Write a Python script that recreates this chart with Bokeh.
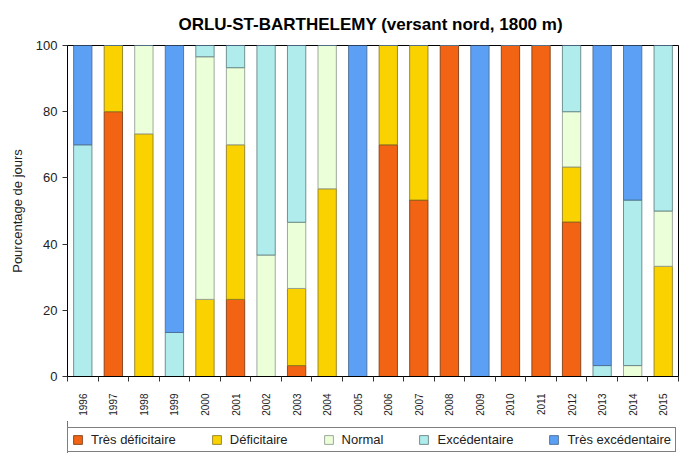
from bokeh.plotting import figure
from bokeh.layouts import column
from bokeh.models import Range1d, FixedTicker, Legend, LegendItem, ColumnDataSource
from bokeh.embed import file_html
from bokeh.resources import INLINE
import math

years = [str(y) for y in range(1996, 2016)]
tres_def = [0, 80, 0, 0, 0, 23.3, 0, 3.3, 0, 0, 70, 53.3, 100, 0, 100, 100, 46.7, 0, 0, 0]
deficit = [0, 20, 73.3, 0, 23.3, 46.7, 0, 23.3, 56.7, 0, 30, 46.7, 0, 0, 0, 0, 16.6, 0, 0, 33.3]
normal = [0, 0, 26.7, 0, 73.3, 23.3, 36.7, 20, 43.3, 0, 0, 0, 0, 0, 0, 0, 16.7, 0, 3.3, 16.7]
exced = [70, 0, 0, 13.3, 3.4, 6.7, 63.3, 53.4, 0, 0, 0, 0, 0, 0, 0, 0, 20, 3.3, 50, 50]
tres_exc = [30, 0, 0, 86.7, 0, 0, 0, 0, 0, 100, 0, 0, 0, 100, 0, 0, 0, 96.7, 46.7, 0]

labels = ["Très déficitaire", "Déficitaire", "Normal", "Excédentaire", "Très excédentaire"]
keys = ["tres_def", "deficit", "normal", "exced", "tres_exc"]
fills = ["#F26414", "#FAD200", "#EBFFD9", "#B0ECEC", "#5BA0F5"]
lines = ["#7a3a10", "#8a7a20", "#8f9a8f", "#5f7f7f", "#4a6a90"]

n = len(years)
xs = [i + 0.5 for i in range(n)]
data = dict(x=xs, tres_def=tres_def, deficit=deficit, normal=normal,
            exced=exced, tres_exc=tres_exc)
source = ColumnDataSource(data)

p = figure(frame_width=611, frame_height=331, output_backend="svg", toolbar_location=None,
           x_range=Range1d(0, n), y_range=Range1d(0, 100),
           min_border_left=67, min_border_right=21, min_border_top=44, min_border_bottom=45,
           title="ORLU-ST-BARTHELEMY  (versant nord, 1800 m)")
p.title.align = "center"
p.title.text_font = "Liberation Sans"
p.title.text_font_size = "17px"
p.title.text_font_style = "bold"
p.title.text_color = "#000000"
p.title.standoff = 24

rs = p.vbar_stack(keys, x="x", width=0.6, source=source, fill_color=fills,
                  line_color=lines, line_width=1, line_alpha=0.85)

p.xgrid.visible = False
p.ygrid.visible = False
p.outline_line_color = "black"
p.outline_line_width = 1
p.background_fill_color = "white"
p.border_fill_color = "white"

xa = p.xaxis[0]
xa.ticker = FixedTicker(ticks=xs, minor_ticks=list(range(n + 1)))
xa.major_label_overrides = {x: y for x, y in zip(xs, years)}
xa.major_tick_out = 0
xa.major_tick_in = 0
xa.minor_tick_out = 5
xa.minor_tick_in = 0
xa.minor_tick_line_color = "#333333"
xa.axis_line_color = "black"
xa.major_label_orientation = math.pi / 2
xa.major_label_text_font = "Liberation Sans"
xa.major_label_text_font_size = "10px"
xa.major_label_text_color = "#222222"
xa.major_label_standoff = 12

ya = p.yaxis[0]
ya.ticker = FixedTicker(ticks=[0, 20, 40, 60, 80, 100])
ya.minor_tick_line_color = None
ya.major_tick_out = 5
ya.major_tick_in = 0
ya.major_tick_line_color = "#333333"
ya.axis_line_color = "black"
ya.major_label_text_font = "Liberation Sans"
ya.major_label_text_font_size = "13px"
ya.major_label_text_color = "#222222"
ya.major_label_standoff = 5
ya.axis_label = "Pourcentage de jours"
ya.axis_label_text_font = "Liberation Sans"
ya.axis_label_text_font_size = "13px"
ya.axis_label_text_font_style = "normal"
ya.axis_label_text_color = "#222222"
ya.axis_label_standoff = 8

# legend strip below the chart
lf = figure(frame_width=699, frame_height=33, output_backend="svg", toolbar_location=None,
            x_range=Range1d(1000, 1001), y_range=Range1d(0, 1),
            x_axis_location=None, y_axis_location=None,
            min_border_left=0, min_border_right=0, min_border_top=0, min_border_bottom=0)
lf.grid.visible = False
lf.outline_line_color = None
lrs = lf.vbar_stack(keys, x="x", width=0.6, source=ColumnDataSource(data), fill_color=fills,
                    line_color=lines, line_width=1, line_alpha=0.85)
legend = Legend(items=[LegendItem(label=l, renderers=[r]) for l, r in zip(labels, lrs)],
                orientation="horizontal", location=(67, 2),
                label_text_font="Liberation Sans", label_text_font_size="13px",
                label_text_color="#222222", glyph_width=11, glyph_height=11,
                label_standoff=8, spacing=35, padding=4, margin=0,
                border_line_color="black", border_line_width=1,
                background_fill_color="white", background_fill_alpha=1)
lf.add_layout(legend, "center")

open("out.html", "w").write(file_html(column(p, lf, spacing=0), INLINE))
